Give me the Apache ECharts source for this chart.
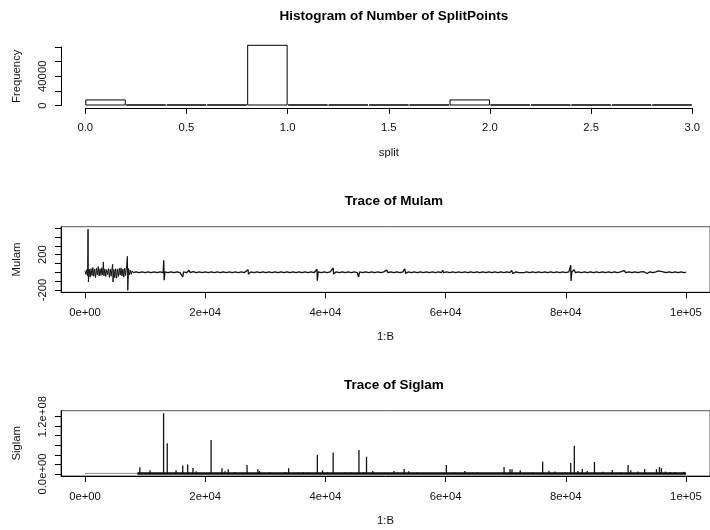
<!DOCTYPE html>
<html>
<head>
<meta charset="utf-8" />
<title>SplitPoints / Mulam / Siglam</title>
<script src="https://cdn.jsdelivr.net/npm/echarts@6/dist/echarts.min.js"></script>
<style>html,body{margin:0;padding:0;background:#fff;}</style>
</head>
<body>
<div id="main" style="width:710px;height:530px;"></div>
<script type="text/javascript">
// histogram of number of split points (bins of width 0.2)
var binStarts = ['0.0','0.2','0.4','0.6','0.8','1.0','1.2','1.4','1.6','1.8','2.0','2.2','2.4','2.6','2.8'];
var binCounts = [8300, 0, 0, 0, 83000, 0, 0, 0, 0, 8300, 0, 0, 0, 0, 400];
var histXTicks = [0, 0.5, 1, 1.5, 2, 2.5, 3];
var histYTicks = [0, 20000, 40000, 60000, 80000];
var histYLabels = [0, 40000];

// trace of Mulam, [iteration, value] - burn-in part
var mulamEarly = [
  [1,18],[150,-25],[300,30],[420,-40],[500,487],[560,-110],[700,35],[850,-55],[1000,42],[1150,-38],
  [1300,55],[1450,-45],[1600,38],[1750,-60],[1900,45],[2050,-30],[2200,65],[2350,-42],[2500,40],[2650,-35],
  [2800,52],[2950,-28],[3050,117],[3150,-40],[3300,38],[3450,-48],[3600,30],[3750,-25],[3900,42],[4050,-58],
  [4200,36],[4350,-44],[4500,48],[4600,90],[4660,-110],[4800,32],[4950,-62],[5100,40],[5250,-66],[5400,35],
  [5550,-48],[5700,44],[5850,-32],[6000,50],[6150,-42],[6300,36],[6450,-55],[6600,46],[6750,-36],[6900,58],
  [7050,181],[7110,-204],[7250,42],[7400,-30],[7550,24],[7700,-22],[7850,16],[8000,-4]
];
// rest of the Mulam trace
var mulamLate = [
  [8000,-4],[8500,5],[9000,-5],[9500,4],[10000,-4],[10500,5],[11000,-5],[11500,4],[12000,-5],[12500,5],
  [13000,-4],[13100,136],[13160,-90],[13300,5],[13800,-5],[14300,4],[14800,-5],[15300,5],[15800,-4],[16260,-53],
  [16400,4],[16900,-5],[17300,23],[17500,-4],[18000,7],[18500,-5],[19000,4],[19500,-5],[20000,5],[20500,-4],
  [21000,5],[21500,-5],[22000,4],[22500,-5],[23000,5],[23500,-4],[24000,5],[24500,-5],[25000,4],[25500,-5],
  [26000,5],[26500,-4],[27130,28],[27200,-22],[27600,5],[28100,-5],[28600,4],[29100,-5],[29600,5],[30100,-4],
  [30600,5],[31100,-5],[31600,4],[32100,-5],[32600,5],[33100,-4],[33600,6],[34100,-5],[34600,4],[35100,-5],
  [35600,5],[36100,-4],[36600,5],[37100,-5],[37600,4],[38100,-5],[38600,34],[38650,-95],[38800,4],[39300,-5],
  [39800,5],[40300,-4],[40800,5],[41300,49],[41350,-20],[41800,5],[42300,-4],[42800,5],[43300,-5],[43800,4],
  [44300,-5],[44800,5],[45300,-4],[45520,-53],[45700,4],[46200,-5],[46700,5],[47200,-4],[47700,5],[48200,-5],
  [48700,4],[49200,-5],[49700,5],[50200,25],[50400,-4],[50900,6],[51400,-5],[51900,5],[52400,-4],[52900,5],
  [53200,40],[53350,-12],[53800,4],[54300,-5],[54800,5],[55300,-4],[55800,5],[56300,-5],[56800,4],[57300,-5],
  [57800,5],[58300,-4],[58800,5],[59300,-5],[59500,22],[59700,-5],[60200,4],[60700,-5],[61200,5],[61700,-4],
  [62200,5],[62700,-5],[63200,4],[63700,-5],[64200,5],[64700,-4],[65200,5],[65700,-5],[66200,4],[66700,-5],
  [67200,5],[67700,-4],[68200,5],[68700,-5],[69200,4],[69700,-5],[70200,5],[70700,-4],[71000,20],[71200,-14],
  [71700,5],[72200,-4],[72500,18],[73000,-4],[73500,5],[74000,-5],[74500,4],[75000,-5],[75500,5],[76000,-4],
  [76500,5],[77000,-5],[77500,4],[78000,-5],[78500,5],[79000,-4],[79500,5],[80000,-5],[80500,4],[80820,80],
  [80880,-98],[81000,4],[81400,28],[81600,-5],[82100,5],[82600,-4],[83100,5],[83600,-5],[84100,4],[84600,-5],
  [85100,5],[85600,-4],[86100,5],[86600,-5],[87100,4],[87600,-5],[88100,5],[88600,-4],[89100,5],[89700,20],
  [90000,-5],[90500,5],[91000,-4],[91500,5],[92000,-5],[92500,4],[93000,6],[93500,-14],[94000,5],[94500,-4],
  [95000,5],[95400,16],[95700,-5],[96200,4],[96700,-5],[97200,5],[97700,-4],[98200,5],[98700,-5],[99200,4],
  [99700,-5],[100000,3]
];
var mulamYTicks = [-200, -100, 0, 100, 200, 300, 400, 500];
var mulamYLabels = [-200, 200];

// trace of Siglam: flat start, baseline band and spikes
var siglamFlat = [[1, 1.2e6], [8700, 1.2e6]];
var siglamBase = [[8700, 1.0e6], [100000, 1.0e6]];
var siglamSpikes = [
  [9120,1.4e7],[10820,7.7e6],[13070,1.27e8],[13680,6.4e7],[15150,7.7e6],[16260,1.8e7],[17080,2.0e7],
  [17960,1.25e7],[18500,5.6e6],[20980,7.1e7],[22790,1.2e7],[23300,5.6e6],[23830,9.8e6],[24900,4e6],
  [26960,1.9e7],[28770,9.8e6],[29050,6e6],[30700,3.5e6],[31800,2.5e6],[33300,4e6],[33880,1.2e7],
  [35400,3e6],[36300,3.5e6],[37000,3e6],[38660,4.0e7],[39520,7.7e6],[40300,3e6],[41290,4.5e7],
  [43200,3e6],[44200,3.5e6],[45580,5.0e7],[46340,4e6],[46840,3.6e7],[47880,6e6],[49800,2.5e6],
  [51400,6e6],[52000,3e6],[53100,1.05e7],[53870,5.6e6],[55200,3e6],[57000,2.5e6],[60120,1.9e7],
  [61500,3e6],[63200,6e6],[64500,3e6],[65300,3e6],[66800,2.5e6],[69730,1.46e7],[70720,9.8e6],
  [71050,9.8e6],[72420,7.7e6],[74500,3e6],[76150,2.6e7],[77200,7e6],[78190,5e6],[79900,3e6],
  [80820,2.3e7],[81420,5.9e7],[82030,6e6],[82740,1.05e7],[83570,6e6],[84770,2.5e7],[86150,4.5e6],
  [87740,8.4e6],[89200,3e6],[90370,1.9e7],[90810,7.7e6],[92020,5e6],[93120,1.05e7],[95090,9.8e6],
  [95590,1.46e7],[95920,1.2e7],[96580,5e6],[97400,4e6],[98230,4e6],[99600,4.5e6]
];
var siglamYTicks = [0, 2e7, 4e7, 6e7, 8e7, 1e8, 1.2e8];
var siglamYLabels = [0, 1.2e8];

var traceXTicks = [0, 20000, 40000, 60000, 80000, 100000];
var traceXLabels = ['0e+00', '2e+04', '4e+04', '6e+04', '8e+04', '1e+05'];

var font = 'Liberation Sans, Arial, Helvetica, sans-serif';
var txt = {color: '#111', fontFamily: font, fontSize: 11.3};

function sciY(v) {
  if (v === 0) return '0.0e+00';
  var e = Math.floor(Math.log10(v));
  var m = v / Math.pow(10, e);
  return m.toFixed(1) + 'e+' + (e < 10 ? '0' + e : e);
}

function tickStyle(vals) {
  return {show: true, length: 6, lineStyle: {color: '#000'}, customValues: vals};
}

function xAxisBase(grid, extra) {
  var ax = {
    gridIndex: grid,
    type: 'value',
    axisLine: {show: true, onZero: false, lineStyle: {color: '#000', width: 1}},
    splitLine: {show: false},
    nameLocation: 'middle',
    nameGap: 39,
    nameTextStyle: txt
  };
  return Object.assign(ax, extra);
}

function yAxisBase(grid, extra) {
  var ax = {
    gridIndex: grid,
    type: 'value',
    axisLine: {show: true, onZero: false, lineStyle: {color: '#000', width: 1}},
    splitLine: {show: false},
    nameLocation: 'middle',
    nameGap: 38.5,
    nameTextStyle: txt
  };
  return Object.assign(ax, extra);
}

var chart = echarts.init(document.getElementById('main'), null, {renderer: 'canvas'});

var titleStyle = {color: '#000', fontFamily: font, fontSize: 13.5, fontWeight: 'bold'};

var option = {
  animation: false,
  backgroundColor: '#fff',
  title: [
    {text: 'Histogram of Number of SplitPoints', left: 388.8, top: 4, textAlign: 'center', textStyle: titleStyle},
    {text: 'Trace of Mulam', left: 388.8, top: 189, textAlign: 'center', textStyle: titleStyle},
    {text: 'Trace of Siglam', left: 388.8, top: 373.5, textAlign: 'center', textStyle: titleStyle}
  ],
  grid: [
    {left: 85.3, top: 47, width: 607, height: 58.5},
    {left: 61, top: 226.7, width: 655.6, height: 65.6, show: true, borderColor: '#555', borderWidth: 1},
    {left: 61, top: 410.7, width: 655.6, height: 65.3, show: true, borderColor: '#555', borderWidth: 1}
  ],
  xAxis: [
    xAxisBase(0, {
      min: 0, max: 3, offset: 2.4, name: 'split',
      axisTick: tickStyle(histXTicks),
      axisLabel: Object.assign({margin: 14.5, customValues: histXTicks,
        formatter: function (v) { return v.toFixed(1); }}, txt)
    }),
    {gridIndex: 0, type: 'category', data: binStarts, show: false, boundaryGap: true},
    xAxisBase(1, {
      min: -3999, max: 103999, name: '1:B',
      axisTick: tickStyle(traceXTicks),
      axisLabel: Object.assign({margin: 15, customValues: traceXTicks,
        formatter: function (v) { return traceXLabels[traceXTicks.indexOf(v)]; }}, txt)
    }),
    xAxisBase(2, {
      min: -3999, max: 103999, name: '1:B',
      axisTick: tickStyle(traceXTicks),
      axisLabel: Object.assign({margin: 15, customValues: traceXTicks,
        formatter: function (v) { return traceXLabels[traceXTicks.indexOf(v)]; }}, txt)
    })
  ],
  yAxis: [
    yAxisBase(0, {
      min: 0, max: 80000, offset: 24.3, name: 'Frequency',
      axisTick: tickStyle(histYTicks),
      axisLabel: Object.assign({margin: 12.7, rotate: 90, customValues: histYLabels,
        formatter: function (v) { return String(v); }}, txt)
    }),
    yAxisBase(1, {
      min: -226.5, max: 516, name: 'Mulam',
      axisTick: tickStyle(mulamYTicks),
      axisLabel: Object.assign({margin: 12.7, rotate: 90, customValues: mulamYLabels,
        formatter: function (v) { return String(v); }}, txt)
    }),
    yAxisBase(2, {
      min: -4.2e6, max: 1.323e8, name: 'Siglam',
      axisTick: tickStyle(siglamYTicks),
      axisLabel: Object.assign({margin: 12.7, rotate: 90, customValues: siglamYLabels, formatter: sciY}, txt)
    })
  ],
  series: [
    {
      type: 'bar', xAxisIndex: 1, yAxisIndex: 0, data: binCounts,
      barWidth: '100%', barCategoryGap: 0, clip: false, barMinHeight: 1,
      itemStyle: {color: '#fff', borderColor: '#000', borderWidth: 1}
    },
    {
      type: 'line', xAxisIndex: 2, yAxisIndex: 1, data: mulamEarly,
      showSymbol: false, symbol: 'none',
      lineStyle: {color: '#111', width: 1}
    },
    {
      type: 'line', xAxisIndex: 2, yAxisIndex: 1, data: mulamLate,
      showSymbol: false, symbol: 'none',
      lineStyle: {color: '#111', width: 1.3}
    },
    {
      type: 'line', xAxisIndex: 3, yAxisIndex: 2, data: siglamFlat,
      showSymbol: false, symbol: 'none',
      lineStyle: {color: '#888', width: 1}
    },
    {
      type: 'line', xAxisIndex: 3, yAxisIndex: 2, data: siglamBase,
      showSymbol: false, symbol: 'none',
      lineStyle: {color: '#111', width: 2.5}
    },
    {
      type: 'bar', xAxisIndex: 3, yAxisIndex: 2, data: siglamSpikes,
      barWidth: 1.3,
      itemStyle: {color: '#111'}
    }
  ]
};

option && chart.setOption(option);
</script>
</body>
</html>
